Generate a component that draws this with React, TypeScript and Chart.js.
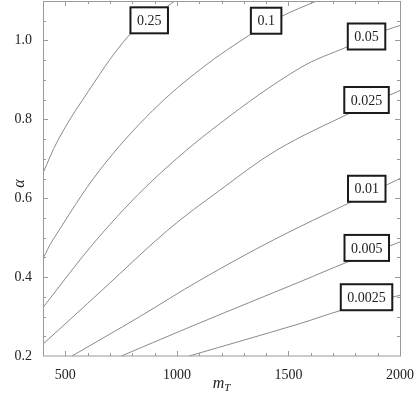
import { useEffect, useRef } from 'react';
import { Chart, registerables } from 'chart.js';
Chart.register(...registerables);

// Contour levels and their label positions (m_T, alpha)
const levels = ['0.25', '0.1', '0.05', '0.025', '0.01', '0.005', '0.0025'];
const labelM = [876, 1400, 1850, 1850, 1851, 1851, 1850];
const labelAlpha = [1.051, 1.05, 1.01, 0.849, 0.624, 0.474, 0.349];

// Contour curves
const m025 = [400, 467, 576, 792, 959, 990];
const a025 = [0.664, 0.747, 0.848, 1.017, 1.087, 1.1];
const m01 = [400, 444, 654, 893, 1117, 1335, 1469, 1626];
const a01 = [0.447, 0.494, 0.671, 0.823, 0.932, 1.017, 1.061, 1.1];
const m005 = [400, 639, 893, 1192, 1551, 1768, 1933, 2000];
const a005 = [0.323, 0.494, 0.646, 0.789, 0.93, 0.985, 1.025, 1.038];
const m0025 = [400, 669, 959, 1192, 1448, 1784, 2000];
const a0025 = [0.23, 0.369, 0.519, 0.62, 0.722, 0.818, 0.873];
const m001 = [530, 834, 1103, 1432, 1783, 2000];
const a001 = [0.2, 0.3, 0.392, 0.494, 0.591, 0.65];
const m0005 = [751, 1103, 1551, 1768, 2000];
const a0005 = [0.2, 0.284, 0.388, 0.439, 0.489];
const m00025 = [1055, 1551, 1738, 2000];
const a00025 = [0.2, 0.282, 0.316, 0.354];

const curveM = [m025, m01, m005, m0025, m001, m0005, m00025];
const curveA = [a025, a01, a005, a0025, a001, a0005, a00025];

const xMin = 400, xMax = 2000, yMin = 0.2, yMax = 1.1;
const xMinorTicks = [500, 600, 700, 800, 900, 1000, 1100, 1200, 1300, 1400, 1500, 1600, 1700, 1800, 1900];
const xMajorTicks = [500, 1000, 1500, 2000];
const yMinorTicks = [0.25, 0.3, 0.35, 0.45, 0.5, 0.55, 0.65, 0.7, 0.75, 0.85, 0.9, 0.95, 1.05];
const yMajorTicks = [0.4, 0.6, 0.8, 1.0];

const SERIF = '"Liberation Serif", "DejaVu Serif", serif';

const decor = {
  id: 'decor',
  afterDatasetsDraw(chart: any) {
    const { ctx, chartArea, scales } = chart;
    const { left, right, top, bottom } = chartArea;
    const x = scales.x, y = scales.y;
    ctx.save();
    // label boxes
    ctx.font = `14px ${SERIF}`;
    ctx.textAlign = 'center';
    ctx.textBaseline = 'middle';
    levels.forEach((t, i) => {
      const cx = x.getPixelForValue(labelM[i]);
      const cy = y.getPixelForValue(labelAlpha[i]);
      const w = ctx.measureText(t).width + 13;
      const h = 26;
      ctx.fillStyle = '#fff';
      ctx.fillRect(cx - w / 2, cy - h / 2, w, h);
      ctx.strokeStyle = '#1a1a1a';
      ctx.lineWidth = 2;
      ctx.strokeRect(cx - w / 2, cy - h / 2, w, h);
      ctx.fillStyle = '#222';
      ctx.fillText(t, cx, cy + 1);
    });
    // frame
    ctx.strokeStyle = '#9a9a9a';
    ctx.lineWidth = 1;
    ctx.strokeRect(Math.round(left) + 0.5, Math.round(top) + 0.5, Math.round(right - left), Math.round(bottom - top) - 0.5);
    // ticks
    const tickX = (v: number, len: number) => {
      const px = Math.round(x.getPixelForValue(v)) + 0.5;
      ctx.beginPath();
      ctx.moveTo(px, bottom); ctx.lineTo(px, bottom - len);
      ctx.moveTo(px, top); ctx.lineTo(px, top + len);
      ctx.stroke();
    };
    const tickY = (v: number, len: number) => {
      const py = Math.round(y.getPixelForValue(v)) + 0.5;
      ctx.beginPath();
      ctx.moveTo(left, py); ctx.lineTo(left + len, py);
      ctx.moveTo(right, py); ctx.lineTo(right - len, py);
      ctx.stroke();
    };
    xMinorTicks.forEach(v => tickX(v, 3));
    xMajorTicks.forEach(v => tickX(v, 5));
    yMinorTicks.forEach(v => tickY(v, 3));
    yMajorTicks.forEach(v => tickY(v, 5));
    // axis titles
    ctx.fillStyle = '#222';
    ctx.textBaseline = 'alphabetic';
    ctx.textAlign = 'left';
    ctx.font = `italic 16px ${SERIF}`;
    const cxT = (left + right) / 2;
    const mw = ctx.measureText('m').width;
    ctx.font = `italic 11px ${SERIF}`;
    const tw = ctx.measureText('T').width;
    const startX = cxT - (mw + tw) / 2;
    ctx.font = `italic 16px ${SERIF}`;
    ctx.fillText('m', startX, 388);
    ctx.font = `italic 11px ${SERIF}`;
    ctx.fillText('T', startX + mw, 391);
    ctx.save();
    ctx.translate(24, (top + bottom) / 2 + 5);
    ctx.rotate(-Math.PI / 2);
    ctx.font = `italic 16px ${SERIF}`;
    ctx.textAlign = 'center';
    ctx.fillText('α', 0, 0);
    ctx.restore();
    ctx.restore();
  },
};

export default function App() {
  const ref = useRef<HTMLCanvasElement | null>(null);
  useEffect(() => {
    if (!ref.current) return;
    const datasets = curveM.map((ms, k) => ({
      label: levels[k],
      data: ms.map((m, i) => ({ x: m, y: curveA[k][i] })),
      borderColor: '#8a8a8a',
      borderWidth: 1,
      pointRadius: 0,
      fill: false,
      tension: 0.35,
    }));
    const chart = new Chart(ref.current, {
      type: 'line',
      data: { datasets },
      options: {
        animation: false,
        responsive: false,
        maintainAspectRatio: false,
        layout: { padding: { top: 1, right: 15, left: 0, bottom: 0 } },
        plugins: { legend: { display: false }, tooltip: { enabled: false } },
        scales: {
          x: {
            type: 'linear',
            min: xMin,
            max: xMax,
            grid: { display: false },
            border: { display: false },
            ticks: {
              stepSize: 100,
              autoSkip: false,
              maxRotation: 0,
              padding: 3,
              color: '#222',
              font: { family: SERIF, size: 14 },
              callback: (v: any) => (Math.round(v) % 500 === 0 && v > 400 ? String(v) : ''),
            },
            afterFit: (s: any) => { s.height = 43; s.paddingLeft = 0; s.paddingRight = 0; },
          },
          y: {
            type: 'linear',
            min: yMin,
            max: yMax,
            grid: { display: false },
            border: { display: false },
            ticks: {
              stepSize: 0.05,
              autoSkip: false,
              padding: 3,
              color: '#222',
              font: { family: SERIF, size: 14 },
              callback: (v: any) => (Math.round(v * 100) % 20 === 0 ? Number(v).toFixed(1) : ''),
            },
            afterFit: (s: any) => { s.width = 43; s.paddingTop = 0; s.paddingBottom = 0; },
          },
        },
      },
      plugins: [decor],
    });
    return () => chart.destroy();
  }, []);
  return (
    <div style={{ position: 'fixed', left: 0, top: 0, width: 415, height: 399, background: '#fff' }}>
      <canvas ref={ref} width={415} height={399} style={{ width: 415, height: 399 }} />
    </div>
  );
}
